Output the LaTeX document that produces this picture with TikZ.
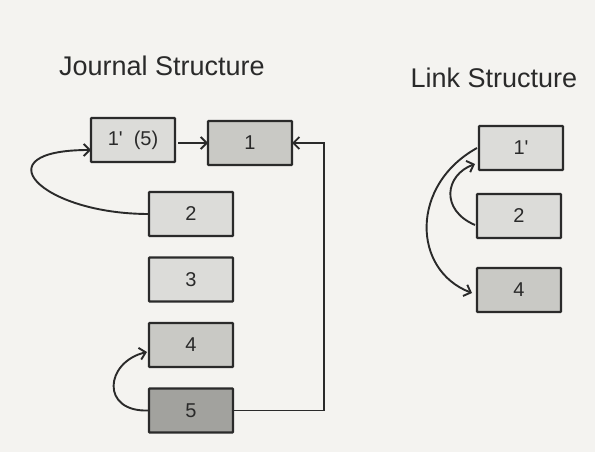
\documentclass[tikz,border=0pt]{standalone}
\usepackage{fontspec}
\setmainfont{Liberation Sans}
\usetikzlibrary{arrows.meta}
\definecolor{paper}{HTML}{F4F3F0}
\definecolor{ink}{HTML}{2A2A2A}
\definecolor{lightbox}{HTML}{DCDCD9}
\definecolor{midbox}{HTML}{C9C9C5}
\definecolor{darkbox}{HTML}{A2A29E}
\tikzset{
  rec/.style={draw=ink, line width=2.2pt, rounded corners=0.8pt,
    minimum width=84pt, minimum height=44pt, inner sep=0pt, outer sep=0pt,
    text=ink, font=\fontsize{20}{24}\selectfont},
  title/.style={text=ink, font=\fontsize{27}{32}\selectfont},
  tip/.style={-{Straight Barb[length=6pt,width=12pt,line width=1.9pt]}},
  arr/.style={draw=ink, line width=1.9pt, tip}
}
\begin{document}
\begin{tikzpicture}[x=1pt,y=-1pt]
\fill[paper] (0,0) rectangle (595,452);
\useasboundingbox (0,0) rectangle (595,452);

% headings
\node[title] (tj) at (162,66) {Journal Structure};
\node[title] (tl) at (494,78) {Link Structure};

% journal column
\node[rec, fill=lightbox] (j1p) at (133,140) {1\textquotesingle\ \ (5)};
\node[rec, fill=midbox]   (j1)  at (250,143) {1};
\node[rec, fill=lightbox] (j2)  at (191,214) {2};
\node[rec, fill=lightbox] (j3)  at (191,279.5) {3};
\node[rec, fill=midbox]   (j4)  at (191,345) {4};
\node[rec, fill=darkbox]  (j5)  at (191,410.5) {5};

% link column
\node[rec, fill=lightbox] (l1) at (521,148) {1\textquotesingle};
\node[rec, fill=lightbox] (l2) at (519,216) {2};
\node[rec, fill=midbox]   (l4) at (519,290) {4};

% journal connectors
\draw[arr] ([xshift=3pt]j1p.east |- j1.west) -- (j1.west);
\coordinate (jr) at (324,143);
\draw[arr] (j5.east) -| (jr) -- (j1.east);
\draw[arr] (j2.west) .. controls +(-109,0) and +(-111,0) .. ([yshift=-10pt]j1p.west);
\draw[arr] (j5.west) .. controls +(-49,2) and +(-42,10) .. ([xshift=-2pt,yshift=-7pt]j4.west);

% link connectors
\draw[arr] ([xshift=-2pt,yshift=-9pt]l2.west) .. controls +(-35,-15) and +(-30,11) .. ([xshift=-4pt,yshift=6pt]l1.south west);
\draw[arr] ([xshift=-2pt]l1.west) .. controls +(-67,37) and +(-60,-23) .. ([xshift=-5pt,yshift=-3pt]l4.west);
\end{tikzpicture}
\end{document}
